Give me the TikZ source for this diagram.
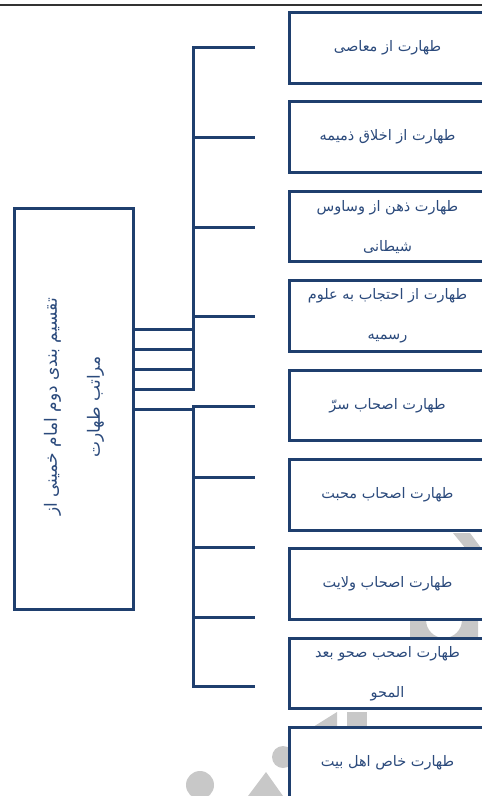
\documentclass[tikz,border=0pt]{standalone}
\usepackage{fontspec}
\TeXXeTstate=1
\newfontfamily\arabicfont[Script=Arabic]{DejaVu Sans}
\definecolor{navy}{HTML}{1F3F6E}
\definecolor{txtblue}{HTML}{2B4A7C}
\definecolor{wm}{HTML}{C8C8C8}
\newcommand{\rl}[1]{\beginR #1\endR}
\begin{document}
\begin{tikzpicture}[x=1pt,y=-1pt,
  box/.style={draw=navy, line width=3pt, fill=white, minimum width=197pt, minimum height=70.5pt,
    inner sep=0pt, text=txtblue, font=\arabicfont\fontsize{14.5}{40}\selectfont, align=center},
  mainbox/.style={draw=navy, line width=3pt, fill=white, minimum width=119pt, minimum height=401pt,
    inner sep=0pt},
  conn/.style={draw=navy, line width=3pt},
]
\useasboundingbox (0,0) rectangle (482,796);
\clip (0,0) rectangle (482,796);
% top rule
\coordinate (rl) at (0,5);
\coordinate (rr) at (482,5);
\draw[line width=1.6pt, black!80] (rl) -- (rr);
% watermark (approximate)
\fill[wm] (453,533) -- (470,533) -- (490,560) -- (475,560) -- cycle;
\draw[wm, line width=16pt] (418,660) -- (418,620) arc[start angle=180, end angle=0, radius=26] -- (470,660);
\fill[wm] (283,757) circle[radius=11];
\fill[wm] (200,785) circle[radius=14];
\fill[wm] (248,796) -- (266,772) -- (283,796) -- cycle;
\fill[wm] (313,727) -- (337,712) -- (337,727) -- cycle;
\fill[wm] (347,712) -- (367,712) -- (367,727) -- (347,727) -- cycle;
% main box
\node[mainbox] (L) at (74,409) {};
\node[rotate=90, text=txtblue, font=\arabicfont\fontsize{17}{43}\selectfont, align=center] (Lt) at (74,407)
  {\rl{تقسیم بندی دوم امام خمینی از}\\ \rl{مراتب طهارت}};
% right boxes
\node[box] (b1) at (387.5,47.75) {\rl{طهارت از معاصی}};
\node[box] (b2) at (387.5,137.15) {\rl{طهارت از اخلاق ذمیمه}};
\node[box] (b3) at (387.5,226.55) {\rl{طهارت ذهن از وساوس}\\ \rl{شیطانی}};
\node[box] (b4) at (387.5,315.95) {\rl{طهارت از احتجاب به علوم}\\ \rl{رسمیه}};
\node[box] (b5) at (387.5,405.35) {\rl{طهارت اصحاب سرّ}};
\node[box] (b6) at (387.5,494.75) {\rl{طهارت اصحاب محبت}};
\node[box] (b7) at (387.5,584.15) {\rl{طهارت اصحاب ولایت}};
\node[box] (b8) at (387.5,673.55) {\rl{طهارت اصحب صحو بعد}\\ \rl{المحو}};
\node[box] (b9) at (387.5,762.95) {\rl{طهارت خاص اهل بیت}};
% connector coordinates
\foreach \i/\y in {1/47,2/137,3/227,4/316,5/406,6/477,7/547,8/617,9/686}{
  \coordinate (j\i) at (193,\y);
  \coordinate (e\i) at (255,\y);
}
\foreach \i/\y in {1/329,2/349,3/369,4/389,5/409}{
  \coordinate (s\i) at (193,\y);
  \coordinate (l\i) at (L.east |- s\i);
}
% upper bus
\draw[conn] (e1) -- (j1) -- (s4) -- (l4);
\foreach \i in {2,3,4}{ \draw[conn] (j\i) -- (e\i); }
\foreach \i in {1,2,3}{ \draw[conn] (l\i) -- (s\i); }
% lower bus
\draw[conn] (l5) -- (s5);
\draw[conn] (e5) -- (j5) -- (j9) -- (e9);
\foreach \i in {6,7,8}{ \draw[conn] (j\i) -- (e\i); }
\end{tikzpicture}
\end{document}
